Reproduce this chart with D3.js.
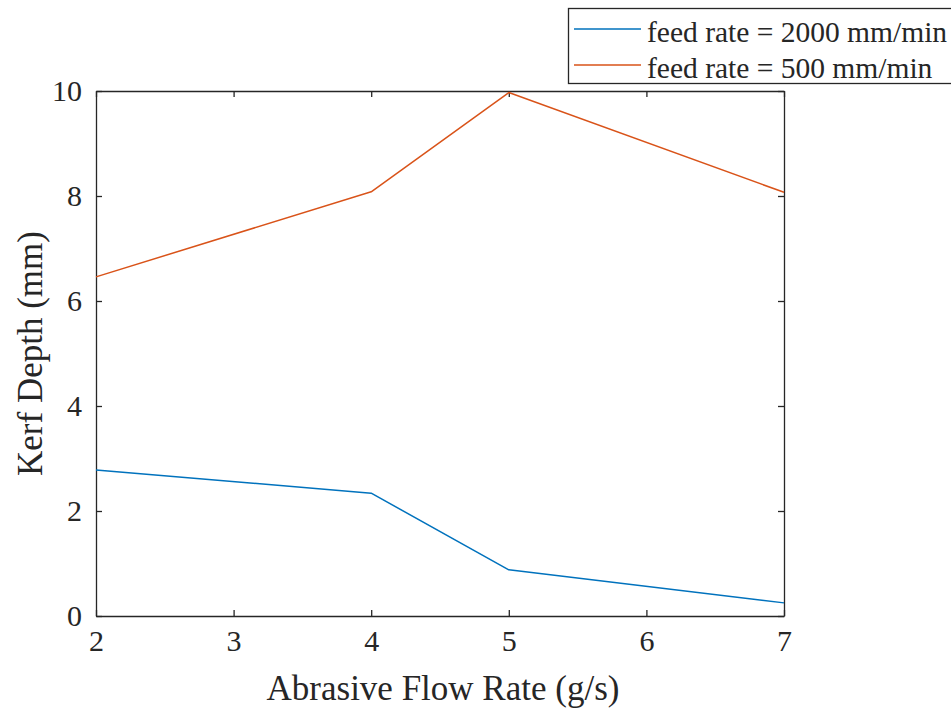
<!DOCTYPE html>
<html>
<head>
<meta charset="utf-8">
<script src="https://cdn.jsdelivr.net/npm/d3@7"></script>
<style>
  body { margin: 0; background: #fff; }
</style>
</head>
<body>
<script>
// values
const flowRate = [2, 4, 5, 7];
const depth2000 = [2.78, 2.34, 0.88, 0.25];
const depth500 = [6.46, 8.08, 9.97, 8.07];
const xTicks = [2, 3, 4, 5, 6, 7];
const yTicks = [0, 2, 4, 6, 8, 10];
const seriesNames = ["feed rate = 2000 mm/min", "feed rate = 500 mm/min"];
const seriesColors = ["#0072BD", "#D95319"];

const width = 951, height = 709;
const margin = {top: 91, right: 167, bottom: 93, left: 96};
const serif = "'Liberation Serif', 'Times New Roman', serif";
const axisColor = "#262626";
const tickLen = 6;

const svg = d3.select("body").append("svg")
	.attr("width", width)
	.attr("height", height)
	.style("font-family", serif);

const x = d3.scaleLinear()
	.domain([2, 7])
	.range([margin.left, width - margin.right]);

const y = d3.scaleLinear()
	.domain([0, 10])
	.range([height - margin.bottom, margin.top]);

const styleAxis = g => {
	g.attr("font-family", null);
	g.select(".domain").attr("stroke", axisColor).attr("stroke-width", 1.3);
	g.selectAll(".tick line").attr("stroke", axisColor).attr("stroke-width", 1.3);
	g.selectAll(".tick text")
		.attr("font-size", 30)
		.attr("fill", axisColor)
		.style("font-family", serif);
};

// bottom axis with labels, inward ticks
svg.append("g")
	.attr("transform", `translate(0,${y(0)})`)
	.call(d3.axisBottom(x).tickValues(xTicks).tickFormat(d3.format("d"))
		.tickSizeInner(-tickLen).tickSizeOuter(0).tickPadding(14))
	.call(styleAxis);

// top axis mirror
svg.append("g")
	.attr("transform", `translate(0,${y(10)})`)
	.call(d3.axisTop(x).tickValues(xTicks).tickFormat("")
		.tickSizeInner(-tickLen).tickSizeOuter(0))
	.call(styleAxis);

// left axis with labels
svg.append("g")
	.attr("transform", `translate(${x(2)},0)`)
	.call(d3.axisLeft(y).tickValues(yTicks).tickFormat(d3.format("d"))
		.tickSizeInner(-tickLen).tickSizeOuter(0).tickPadding(14))
	.call(styleAxis);

// right axis mirror
svg.append("g")
	.attr("transform", `translate(${x(7)},0)`)
	.call(d3.axisRight(y).tickValues(yTicks).tickFormat("")
		.tickSizeInner(-tickLen).tickSizeOuter(0))
	.call(styleAxis);

const line = d3.line()
	.x((d, i) => x(flowRate[i]))
	.y(d => y(d));

[depth2000, depth500].forEach((s, k) => {
	svg.append("path")
		.datum(s)
		.attr("fill", "none")
		.attr("stroke", seriesColors[k])
		.attr("stroke-width", 1.5)
		.attr("stroke-linejoin", "round")
		.attr("d", line);
});

// axis labels
svg.append("text")
	.attr("x", 443)
	.attr("y", 700)
	.attr("text-anchor", "middle")
	.attr("font-size", 35)
	.attr("fill", axisColor)
	.style("font-family", serif)
	.text("Abrasive Flow Rate (g/s)");

svg.append("text")
	.attr("transform", `translate(42,${(y(0) + y(10)) / 2}) rotate(-90)`)
	.attr("text-anchor", "middle")
	.attr("font-size", 35)
	.attr("fill", axisColor)
	.style("font-family", serif)
	.text("Kerf Depth (mm)");

// legend
const legend = svg.append("g");
legend.append("rect")
	.attr("x", 568.5).attr("y", 8.5)
	.attr("width", 400).attr("height", 75)
	.attr("fill", "#fff")
	.attr("stroke", axisColor)
	.attr("stroke-width", 1.3);

seriesNames.forEach((name, k) => {
	const ly = 29 + k * 36;
	legend.append("line")
		.attr("x1", 574).attr("x2", 641)
		.attr("y1", ly).attr("y2", ly)
		.attr("stroke", seriesColors[k])
		.attr("stroke-width", 1.5);
	legend.append("text")
		.attr("x", 647).attr("y", ly + 3)
		.attr("dy", "0.35em")
		.attr("font-size", 29.5)
		.attr("fill", axisColor)
		.style("font-family", serif)
		.text(name);
});
</script>
</body>
</html>
